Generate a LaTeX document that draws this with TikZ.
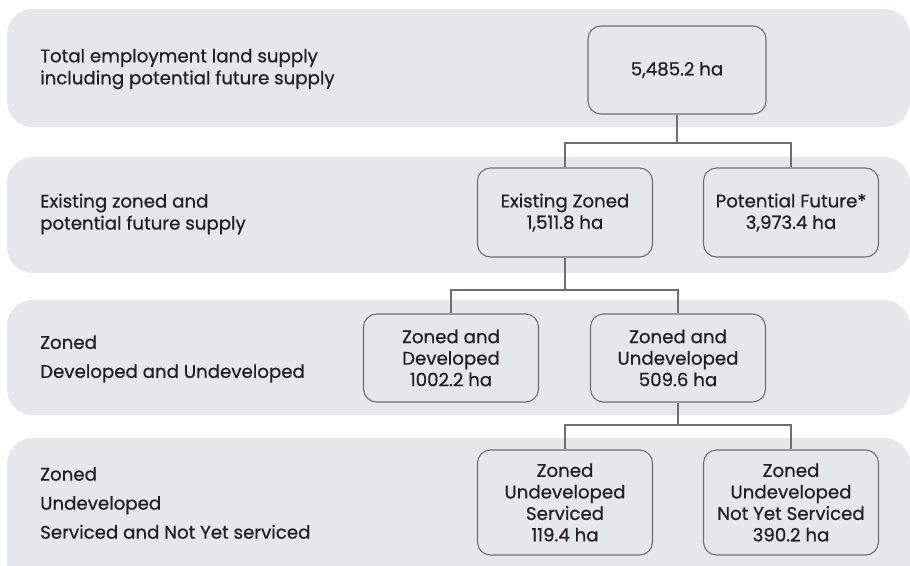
\documentclass[tikz,border=0pt]{standalone}
\usepackage{fontspec}
\setmainfont{Poppins}[UprightFeatures={FakeBold=0.6}]
\definecolor{bandgray}{HTML}{E6E7E8}
\definecolor{boxline}{HTML}{6D6E71}
\definecolor{txt}{HTML}{231F20}
\begin{document}
\begin{tikzpicture}[x=1pt,y=-1pt,
  band/.style={fill=bandgray, rounded corners=26pt},
  valbox/.style={draw=boxline, line width=1.1pt, fill=bandgray, rounded corners=13pt,
    minimum width=175pt, align=center, text=txt, inner sep=0pt,
    font=\fontsize{18.2}{21.5}\selectfont},
  lefttext/.style={anchor=west, align=left, text=txt, inner sep=0pt,
    font=\fontsize{18.2}{22}\selectfont},
  lefttextwide/.style={anchor=west, align=left, text=txt, inner sep=0pt,
    font=\fontsize{18.2}{29}\selectfont},
  conn/.style={draw=boxline, line width=1.1pt}]
\useasboundingbox (0,0) rectangle (910,565);
\begin{scope}
\clip (0,0) rectangle (910,565);
\path[band] (7,9) rectangle (910,127);
\path[band] (7,157) rectangle (910,273);
\path[band] (7,300) rectangle (910,415);
\path[band] (7,438) rectangle (910,590);
\end{scope}

\node[lefttext] (l1) at (40,69) {Total employment land supply\\including potential future supply};
\node[lefttext] (l2) at (40,214) {Existing zoned and\\potential future supply};
\node[lefttextwide] (l3) at (40,359) {Zoned\\Developed and Undeveloped};
\node[lefttextwide] (l4) at (40,503) {Zoned\\Undeveloped\\Serviced and Not Yet serviced};

\node[valbox, minimum width=178pt, minimum height=88pt] (top) at (677,70) {5,485.2 ha};
\node[valbox, minimum height=89pt] (ez) at (565,212.5) {Existing Zoned\\1,511.8 ha};
\node[valbox, minimum height=89pt] (pf) at (791,212.5) {Potential Future*\\3,973.4 ha};
\node[valbox, minimum height=88pt] (zd) at (451,358) {Zoned and\\Developed\\1002.2 ha};
\node[valbox, minimum height=88pt] (zu) at (678,358) {Zoned and\\Undeveloped\\509.6 ha};
\node[valbox, minimum height=105pt] (zs) at (565,502.5) {Zoned\\Undeveloped\\Serviced\\119.4 ha};
\node[valbox, minimum height=105pt] (zn) at (791,502.5) {Zoned\\Undeveloped\\Not Yet Serviced\\390.2 ha};

\coordinate (j1) at (top.south |- 0,143);
\coordinate (j2) at (ez.south |- 0,290);
\coordinate (j3) at (zu.south |- 0,425);
\draw[conn] (top.south) -- (j1);
\draw[conn] (ez.north) |- (j1) -| (pf.north);
\draw[conn] (ez.south) -- (j2);
\draw[conn] (zd.north) |- (j2) -| (zu.north);
\draw[conn] (zu.south) -- (j3);
\draw[conn] (zs.north) |- (j3) -| (zn.north);
\end{tikzpicture}
\end{document}
